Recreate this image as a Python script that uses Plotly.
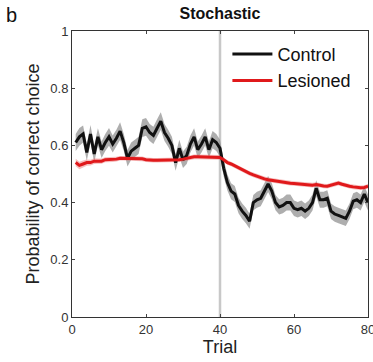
import plotly.graph_objects as go

trials = list(range(1, 81))

control_mean = [
    0.61, 0.63, 0.64, 0.575, 0.64, 0.57, 0.63, 0.585, 0.61, 0.63,
    0.605, 0.625, 0.65, 0.61, 0.555, 0.58, 0.59, 0.60, 0.66, 0.665,
    0.645, 0.635, 0.66, 0.685, 0.645, 0.625, 0.60, 0.54, 0.59, 0.55,
    0.565, 0.605, 0.63, 0.585, 0.605, 0.63, 0.585, 0.62, 0.61, 0.59,
    0.52, 0.47, 0.44, 0.43, 0.39, 0.37, 0.355, 0.335, 0.40, 0.41,
    0.415, 0.44, 0.465, 0.44, 0.40, 0.385, 0.39, 0.40, 0.40, 0.38,
    0.375, 0.38, 0.37, 0.38, 0.40, 0.45, 0.41, 0.41, 0.415, 0.37,
    0.36, 0.355, 0.35, 0.345, 0.37, 0.405, 0.41, 0.40, 0.43, 0.40,
]
control_sem = [
    0.030, 0.031, 0.030, 0.029, 0.031, 0.030, 0.030, 0.029, 0.030, 0.031,
    0.030, 0.030, 0.031, 0.030, 0.029, 0.030, 0.030, 0.030, 0.031, 0.031,
    0.030, 0.030, 0.031, 0.031, 0.030, 0.030, 0.030, 0.029, 0.030, 0.029,
    0.030, 0.030, 0.030, 0.029, 0.030, 0.030, 0.029, 0.030, 0.030, 0.030,
    0.029, 0.028, 0.028, 0.028, 0.027, 0.027, 0.027, 0.026, 0.027, 0.028,
    0.028, 0.028, 0.028, 0.028, 0.027, 0.027, 0.027, 0.028, 0.028, 0.027,
    0.027, 0.027, 0.027, 0.027, 0.028, 0.028, 0.028, 0.028, 0.028, 0.027,
    0.027, 0.027, 0.027, 0.027, 0.027, 0.028, 0.028, 0.028, 0.028, 0.028,
]
lesioned_mean = [
    0.54, 0.53, 0.535, 0.54, 0.54, 0.545, 0.545, 0.545, 0.55, 0.55,
    0.55, 0.552, 0.555, 0.555, 0.555, 0.555, 0.555, 0.555, 0.553, 0.55,
    0.548, 0.548, 0.548, 0.548, 0.548, 0.548, 0.548, 0.548, 0.55, 0.552,
    0.555, 0.558, 0.56, 0.56, 0.56, 0.56, 0.56, 0.56, 0.56, 0.558,
    0.55, 0.54, 0.535, 0.528, 0.52, 0.515, 0.508, 0.502, 0.497, 0.492,
    0.487, 0.483, 0.48, 0.478, 0.476, 0.474, 0.47, 0.47, 0.468, 0.467,
    0.466, 0.464, 0.462, 0.461, 0.461, 0.463, 0.46, 0.458, 0.457, 0.46,
    0.465, 0.468, 0.464, 0.46, 0.457, 0.455, 0.453, 0.452, 0.453, 0.457,
]
lesioned_sem = [
    0.013, 0.013, 0.012, 0.011, 0.010, 0.010, 0.009, 0.009, 0.009, 0.009,
    0.008, 0.008, 0.008, 0.008, 0.008, 0.008, 0.008, 0.008, 0.008, 0.008,
    0.008, 0.008, 0.008, 0.008, 0.008, 0.008, 0.008, 0.008, 0.008, 0.008,
    0.008, 0.008, 0.008, 0.008, 0.008, 0.008, 0.008, 0.008, 0.008, 0.008,
    0.008, 0.008, 0.008, 0.008, 0.008, 0.008, 0.008, 0.008, 0.008, 0.008,
    0.008, 0.008, 0.008, 0.008, 0.008, 0.008, 0.008, 0.008, 0.008, 0.008,
    0.008, 0.008, 0.008, 0.008, 0.008, 0.008, 0.008, 0.008, 0.008, 0.008,
    0.008, 0.008, 0.008, 0.008, 0.008, 0.008, 0.008, 0.008, 0.008, 0.008,
]

switch_trial = 40
x_ticks = [0, 20, 40, 60, 80]
y_ticks = [0, 0.2, 0.4, 0.6, 0.8, 1]
y_tick_labels = ["0", "0.2", "0.4", "0.6", "0.8", "1"]

FONT = "Liberation Sans, Arial, Helvetica, sans-serif"

fig = go.Figure()

def add_band(mean, sem, fillcolor):
    upper = [m + s for m, s in zip(mean, sem)]
    lower = [m - s for m, s in zip(mean, sem)]
    fig.add_trace(go.Scatter(x=trials, y=upper, mode="lines", line=dict(width=0),
                             showlegend=False, hoverinfo="skip"))
    fig.add_trace(go.Scatter(x=trials, y=lower, mode="lines", line=dict(width=0),
                             fill="tonexty", fillcolor=fillcolor,
                             showlegend=False, hoverinfo="skip"))

add_band(control_mean, control_sem, "rgba(140,140,140,0.7)")
add_band(lesioned_mean, lesioned_sem, "rgba(235,110,110,0.45)")

fig.add_trace(go.Scatter(x=trials, y=control_mean, mode="lines", name="Control",
                         line=dict(color="#111111", width=3)))
fig.add_trace(go.Scatter(x=trials, y=lesioned_mean, mode="lines", name="Lesioned",
                         line=dict(color="#e0191b", width=3)))

fig.add_shape(type="line", xref="x", yref="paper", x0=switch_trial, x1=switch_trial,
              y0=0, y1=1, line=dict(color="#c8c8c8", width=2.5), layer="below")

fig.update_layout(
    width=373, height=362,
    margin=dict(l=72, r=5, t=31, b=45),
    paper_bgcolor="white", plot_bgcolor="white",
    font=dict(family=FONT, color="#222222"),
    title=dict(text="<b>Stochastic</b>", x=220 / 373, xanchor="center",
               y=1 - 13 / 362, yanchor="middle", font=dict(size=16, color="#111111")),
    showlegend=True,
    legend=dict(x=0.525, xanchor="left", y=0.983, yanchor="top",
                traceorder="normal",
                bgcolor="rgba(255,255,255,0)", borderwidth=0,
                font=dict(size=18, color="#111111"), tracegroupgap=0,
                itemwidth=40),
    annotations=[dict(text="b", xref="paper", yref="paper", x=-0.205, y=1.0 + 16 / 286,
                      xanchor="center", yanchor="middle", showarrow=False,
                      font=dict(size=20, color="#111111"))],
)

fig.update_xaxes(range=[0, 80], tickvals=x_ticks, ticks="inside", ticklen=3,
                 showline=True, linecolor="#333333", linewidth=1, mirror="ticks",
                 showgrid=False, zeroline=False, tickfont=dict(size=13, color="#333333"),
                 ticklabeloverflow="allow", automargin=False,
                 title=dict(text="Trial", font=dict(size=18), standoff=4))
fig.update_yaxes(range=[0, 1], tickvals=y_ticks, ticktext=y_tick_labels, ticks="inside",
                 ticklen=3, showline=True, linecolor="#333333", linewidth=1, mirror="ticks",
                 showgrid=False, zeroline=False, tickfont=dict(size=13, color="#333333"),
                 automargin=False,
                 title=dict(text="Probability of correct choice", font=dict(size=18), standoff=6))

fig.write_html("out.html")
